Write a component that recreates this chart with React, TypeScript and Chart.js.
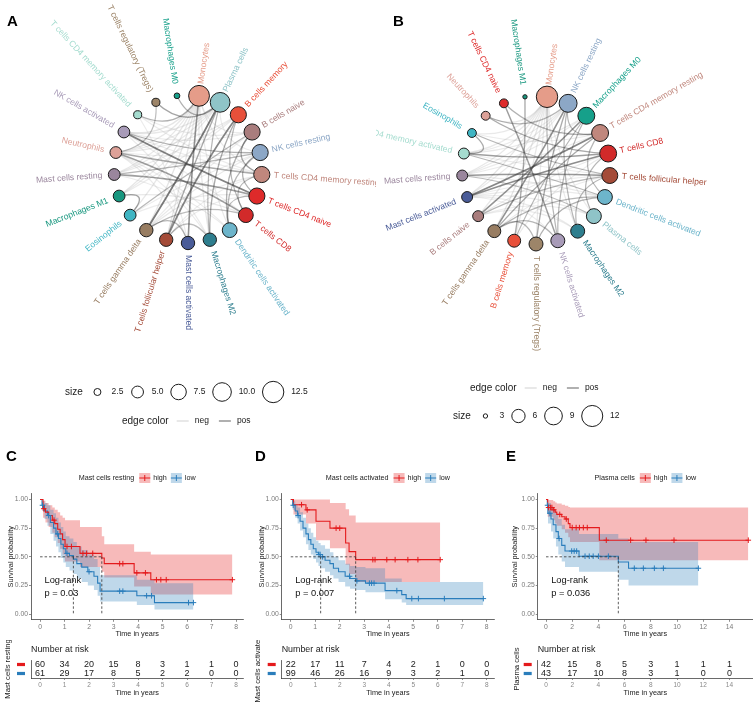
import React, { useEffect, useRef } from 'react';
import { Chart, registerables } from 'chart.js';

Chart.register(...registerables);

const FONT = "'Liberation Sans', Arial, Helvetica, sans-serif";
Chart.defaults.font.family = FONT;

// ================= Network data =================
const cellColors: Record<string, string> = {
  'Monocytes': '#E59C89',
  'Plasma cells': '#8FC4C8',
  'B cells memory': '#E8503A',
  'B cells naive': '#A97D7D',
  'NK cells resting': '#8CA7C6',
  'T cells CD4 memory resting': '#C0877D',
  'T cells CD4 naive': '#DE2A2A',
  'T cells CD8': '#D22A2A',
  'Dendritic cells activated': '#6DB5CB',
  'Macrophages M2': '#2E7E8E',
  'Mast cells activated': '#4A5C98',
  'T cells follicular helper': '#A44B38',
  'T cells gamma delta': '#987D62',
  'Eosinophils': '#3FB5C3',
  'Macrophages M1': '#18977F',
  'Mast cells resting': '#9A869D',
  'Neutrophils': '#DDA198',
  'NK cells activated': '#A89BB8',
  'T cells CD4 memory activated': '#A5DCCF',
  'T cells regulatory (Tregs)': '#9D8569',
  'Macrophages M0': '#16A08A',
};

const netANodes = ['Monocytes', 'Plasma cells', 'B cells memory', 'B cells naive', 'NK cells resting',
  'T cells CD4 memory resting', 'T cells CD4 naive', 'T cells CD8', 'Dendritic cells activated', 'Macrophages M2',
  'Mast cells activated', 'T cells follicular helper', 'T cells gamma delta', 'Eosinophils', 'Macrophages M1',
  'Mast cells resting', 'Neutrophils', 'NK cells activated', 'T cells CD4 memory activated',
  'T cells regulatory (Tregs)', 'Macrophages M0'];
const netASizes = [12, 11, 8, 8, 8, 8, 8, 7, 7, 6, 6, 6, 6, 5, 5, 5, 5, 5, 3, 3, 2];
const netAEdges: [number, number, number][] = [
  [1, 12, 0.9], [2, 11, 0.8], [17, 6, 0.85], [16, 7, 0.6], [15, 6, 0.6], [0, 10, 0.7], [14, 13, 0.55],
  [20, 1, 0.45], [19, 1, 0.55], [18, 0, 0.45], [2, 9, 0.5], [3, 5, 0.5], [4, 6, 0.45], [5, 7, 0.4],
  [3, 8, 0.45], [4, 8, 0.4], [1, 11, 0.5], [12, 10, 0.4], [11, 9, 0.35], [17, 4, 0.45], [16, 5, 0.5],
  [15, 4, 0.4], [13, 3, 0.4], [8, 6, 0.35], [2, 7, 0.4], [12, 7, 0.35], [19, 16, 0.35], [1, 9, 0.4],
  [0, 12, -0.5], [0, 13, -0.4], [0, 14, -0.45], [0, 16, -0.4], [0, 17, -0.5], [0, 15, -0.4], [0, 11, -0.45],
  [0, 9, -0.4], [0, 8, -0.35], [0, 3, -0.3], [0, 5, -0.35], [1, 15, -0.4], [1, 16, -0.35], [1, 17, -0.4],
  [1, 14, -0.35], [1, 4, -0.3], [2, 16, -0.35], [2, 15, -0.3], [2, 14, -0.3], [3, 17, -0.35], [3, 12, -0.3],
  [4, 12, -0.35], [4, 13, -0.3], [4, 16, -0.3], [5, 11, -0.3], [5, 12, -0.35], [5, 17, -0.3], [6, 13, -0.3],
  [6, 11, -0.3], [7, 14, -0.35], [7, 17, -0.3], [8, 15, -0.3], [8, 16, -0.3], [9, 17, -0.3], [9, 16, -0.3],
  [10, 16, -0.35], [10, 18, -0.3], [18, 5, -0.3], [18, 3, -0.3],
];
const netASizeBreaks = [2.5, 5, 7.5, 10, 12.5];
const netASizeLabels = ['2.5', '5.0', '7.5', '10.0', '12.5'];

const netBNodes = ['Monocytes', 'NK cells resting', 'Macrophages M0', 'T cells CD4 memory resting', 'T cells CD8',
  'T cells follicular helper', 'Dendritic cells activated', 'Plasma cells', 'Macrophages M2', 'NK cells activated',
  'T cells regulatory (Tregs)', 'B cells memory', 'T cells gamma delta', 'B cells naive', 'Mast cells activated',
  'Mast cells resting', 'T cells CD4 memory activated', 'Eosinophils', 'Neutrophils', 'T cells CD4 naive',
  'Macrophages M1'];
const netBSizes = [12.3, 9.2, 8.4, 8.4, 8.4, 7.7, 7.0, 7.0, 6.4, 6.4, 6.4, 5.8, 5.8, 4.8, 4.8, 4.8, 4.8, 4.0, 4.0, 4.0, 3.0];
const netBEdges: [number, number, number][] = [
  [14, 3, 0.8], [14, 4, 0.75], [13, 2, 0.7], [12, 1, 0.7], [15, 5, 0.65], [16, 4, 0.6], [19, 9, 0.6],
  [20, 11, 0.5], [18, 4, 0.5], [17, 16, 0.5], [12, 3, 0.5], [10, 1, 0.5], [9, 2, 0.4], [11, 2, 0.4],
  [8, 5, 0.4], [7, 4, 0.4], [6, 3, 0.4], [1, 3, 0.4], [13, 5, 0.4], [12, 6, 0.4], [10, 12, 0.4],
  [9, 12, 0.4], [19, 3, 0.45], [0, 9, 0.4], [8, 1, 0.4], [10, 6, 0.45], [18, 1, 0.4], [17, 5, 0.4],
  [16, 6, 0.4], [15, 7, 0.35],
  [0, 12, -0.45], [0, 13, -0.4], [0, 14, -0.45], [0, 15, -0.4], [0, 16, -0.4], [0, 17, -0.35], [0, 18, -0.35],
  [0, 11, -0.4], [0, 10, -0.35], [0, 8, -0.35], [0, 7, -0.3], [1, 15, -0.35], [1, 16, -0.3], [1, 14, -0.3],
  [2, 15, -0.3], [2, 16, -0.35], [3, 15, -0.3], [3, 17, -0.3], [4, 13, -0.35], [4, 11, -0.3], [5, 16, -0.3],
  [5, 14, -0.3], [5, 12, -0.3], [6, 15, -0.35], [6, 14, -0.3], [7, 14, -0.3], [7, 13, -0.3], [8, 14, -0.3],
  [8, 13, -0.3], [9, 14, -0.3],
];
const netBSizeBreaks = [3, 6, 9, 12];
const netBSizeLabels = ['3', '6', '9', '12'];

const edgeLegendLabels = ['neg', 'pos'];

// ================= Survival data =================
const riskGroups = ['high', 'low'];
const kmYTicks = [0, 0.25, 0.5, 0.75, 1];

// C: Mast cells resting
const cHighTime = [0, 0.12, 0.22, 0.35, 0.5, 0.6, 0.72, 0.82, 0.92, 1.02, 1.63, 2.52, 2.62, 3.84, 4.52, 7.85];
const cHighSurv = [1, 0.92, 0.89, 0.86, 0.82, 0.79, 0.74, 0.70, 0.65, 0.59, 0.53, 0.49, 0.44, 0.36, 0.30, 0.30];
const cHighUpper = [1, 0.99, 0.97, 0.95, 0.93, 0.91, 0.89, 0.86, 0.84, 0.82, 0.76, 0.68, 0.61, 0.545, 0.52, 0.52];
const cHighLower = [1, 0.84, 0.80, 0.76, 0.71, 0.67, 0.62, 0.57, 0.52, 0.46, 0.41, 0.37, 0.32, 0.24, 0.17, 0.17];
const cHighCensor = [0.15, 0.57, 1.1, 1.28, 1.75, 1.9, 2.15, 3.25, 3.38, 3.95, 4.3, 4.75, 4.93, 5.15, 7.85];
const cLowTime = [0, 0.08, 0.18, 0.3, 0.42, 0.55, 0.65, 0.75, 0.85, 0.95, 1.05, 1.2, 1.36, 1.5, 1.7, 1.95, 2.2, 2.35, 2.45, 3.95, 4.67, 6.26];
const cLowSurv = [1, 0.95, 0.90, 0.86, 0.80, 0.75, 0.70, 0.66, 0.61, 0.57, 0.53, 0.51, 0.48, 0.44, 0.41, 0.37, 0.33, 0.27, 0.20, 0.16, 0.10, 0.10];
const cLowUpper = [1, 0.99, 0.97, 0.95, 0.91, 0.88, 0.84, 0.80, 0.76, 0.72, 0.68, 0.66, 0.63, 0.59, 0.56, 0.52, 0.48, 0.41, 0.34, 0.30, 0.27, 0.27];
const cLowLower = [1, 0.90, 0.83, 0.77, 0.70, 0.64, 0.59, 0.54, 0.49, 0.45, 0.41, 0.38, 0.35, 0.31, 0.28, 0.25, 0.21, 0.16, 0.11, 0.08, 0.04, 0.04];
const cLowCensor = [0.1, 0.35, 0.72, 1.1, 2.0, 3.25, 3.38, 4.35, 4.55, 6.06, 6.26];
const cRiskTimes = [0, 1, 2, 3, 4, 5, 6, 7, 8];
const cRiskHigh = [60, 34, 20, 15, 8, 3, 1, 1, 0];
const cRiskLow = [61, 29, 17, 8, 5, 2, 2, 0, 0];

// D: Mast cells activated
const dHighTime = [0, 0.11, 0.62, 1.03, 1.6, 2.24, 2.38, 2.65, 6.1];
const dHighSurv = [1, 0.955, 0.91, 0.81, 0.75, 0.62, 0.545, 0.475, 0.475];
const dHighUpper = [1, 1, 1, 1, 0.97, 0.915, 0.86, 0.80, 0.80];
const dHighLower = [1, 0.87, 0.79, 0.645, 0.575, 0.43, 0.35, 0.28, 0.28];
const dHighCensor = [0.44, 0.67, 1.85, 2.0, 3.35, 3.44, 3.92, 4.26, 4.78, 5.19, 6.1];
const dLowTime = [0, 0.08, 0.18, 0.28, 0.38, 0.5, 0.62, 0.72, 0.82, 0.92, 1.03, 1.13, 1.22, 1.4, 1.6, 1.74, 1.95, 2.22, 2.42, 2.66, 3.05, 3.85, 4.53, 4.71, 7.86];
const dLowSurv = [1, 0.95, 0.90, 0.86, 0.81, 0.75, 0.70, 0.65, 0.61, 0.57, 0.54, 0.52, 0.50, 0.47, 0.44, 0.40, 0.37, 0.33, 0.31, 0.29, 0.27, 0.205, 0.17, 0.135, 0.135];
const dLowUpper = [1, 0.99, 0.96, 0.93, 0.89, 0.84, 0.79, 0.75, 0.71, 0.67, 0.64, 0.62, 0.60, 0.57, 0.54, 0.50, 0.47, 0.44, 0.42, 0.41, 0.40, 0.31, 0.28, 0.28, 0.28];
const dLowLower = [1, 0.91, 0.84, 0.79, 0.73, 0.67, 0.61, 0.56, 0.52, 0.48, 0.45, 0.42, 0.40, 0.37, 0.34, 0.31, 0.28, 0.24, 0.22, 0.21, 0.19, 0.13, 0.10, 0.08, 0.08];
const dLowCensor = [0.1, 0.3, 1.15, 1.2, 1.3, 2.4, 2.7, 3.21, 3.3, 3.4, 4.33, 4.94, 5.21, 6.27, 7.86];
const dRiskTimes = [0, 1, 2, 3, 4, 5, 6, 7, 8];
const dRiskHigh = [22, 17, 11, 7, 4, 2, 1, 0, 0];
const dRiskLow = [99, 46, 26, 16, 9, 3, 2, 1, 0];

// E: Plasma cells
const eHighTime = [0, 0.13, 0.55, 0.7, 0.82, 1.2, 1.45, 1.7, 1.83, 4.07, 15.44];
const eHighSurv = [1, 0.93, 0.91, 0.89, 0.87, 0.85, 0.83, 0.79, 0.755, 0.645, 0.645];
const eHighUpper = [1, 0.995, 0.985, 0.975, 0.965, 0.955, 0.945, 0.935, 0.93, 0.93, 0.93];
const eHighLower = [1, 0.85, 0.82, 0.79, 0.77, 0.74, 0.71, 0.67, 0.63, 0.47, 0.47];
const eHighCensor = [0.2, 0.35, 0.45, 0.6, 1.05, 1.55, 2.0, 2.3, 2.55, 2.85, 3.15, 4.6, 6.46, 7.63, 9.77, 15.44];
const eLowTime = [0, 0.1, 0.15, 0.38, 0.55, 0.76, 0.94, 1.2, 1.45, 2.52, 5.52, 6.3, 11.63];
const eLowSurv = [1, 0.95, 0.88, 0.83, 0.78, 0.72, 0.66, 0.60, 0.55, 0.505, 0.455, 0.40, 0.40];
const eLowUpper = [1, 0.99, 0.97, 0.94, 0.91, 0.87, 0.83, 0.78, 0.74, 0.70, 0.66, 0.63, 0.63];
const eLowLower = [1, 0.88, 0.79, 0.72, 0.66, 0.59, 0.52, 0.46, 0.41, 0.37, 0.30, 0.25, 0.25];
const eLowCensor = [0.12, 0.3, 1.0, 1.96, 2.15, 2.34, 2.98, 3.3, 3.6, 4.0, 4.76, 6.74, 7.43, 8.27, 8.96, 11.63];
const eRiskTimes = [0, 2, 4, 6, 8, 10, 12, 14];
const eRiskHigh = [42, 15, 8, 5, 3, 1, 1, 1];
const eRiskLow = [43, 17, 10, 8, 3, 1, 0, 0];

// ================= Styles =================
const RED = '#E41A1C';
const BLUE = '#2A7DBB';
const RED_CI = 'rgba(228,26,28,0.3)';
const BLUE_CI = 'rgba(42,125,187,0.3)';

const rOfA = (s: number) => 3.67 * Math.sqrt(s) - 2.3;
const rOfB = (s: number) => 1.2 + 3.1 * Math.sqrt(Math.max(0, s - 2.9));

// ================= Network chart =================
function networkConfig(p: any) {
  const n = p.nodes.length;
  const step = (2 * Math.PI) / n;
  const data = p.nodes.map((name: string, i: number) => {
    const th = -Math.PI / 2 + (i + 0.5) * step;
    return { x: p.ring * Math.cos(th), y: -p.ring * Math.sin(th), r: p.rOf(p.sizes[i]) };
  });
  const plugin = {
    id: 'net',
    beforeDatasetsDraw(chart: any) {
      const ctx = chart.ctx;
      const pts = chart.getDatasetMeta(0).data;
      const cx = chart.scales.x.getPixelForValue(0);
      const cy = chart.scales.y.getPixelForValue(0);
      const sorted = [...p.edges].sort((a: any, b: any) => ((a[2] > 0 ? 1 : 0) - (b[2] > 0 ? 1 : 0)) || (Math.abs(a[2]) - Math.abs(b[2])));
      ctx.save();
      ctx.lineCap = 'round';
      for (const [a, b, w] of sorted) {
        const P = pts[a], Q = pts[b];
        const mx = (P.x + Q.x) / 2, my = (P.y + Q.y) / 2;
        const kx = mx + (cx - mx) * 0.45, ky = my + (cy - my) * 0.45;
        const s = Math.abs(w);
        ctx.strokeStyle = w > 0 ? `rgba(55,55,55,${0.12 + 0.6 * s})` : `rgba(180,180,180,${0.15 + 0.4 * s})`;
        ctx.lineWidth = w > 0 ? 0.7 + 1.3 * s : 0.8 + 1.2 * s;
        ctx.beginPath();
        ctx.moveTo(P.x, P.y);
        ctx.quadraticCurveTo(kx, ky, Q.x, Q.y);
        ctx.stroke();
      }
      ctx.restore();
    },
    afterDatasetsDraw(chart: any) {
      const ctx = chart.ctx;
      const pts = chart.getDatasetMeta(0).data;
      const cx = chart.scales.x.getPixelForValue(0);
      const cy = chart.scales.y.getPixelForValue(0);
      ctx.save();
      ctx.font = `8.6px ${FONT}`;
      ctx.textBaseline = 'middle';
      pts.forEach((P: any, i: number) => {
        const ang = Math.atan2(P.y - cy, P.x - cx);
        const dist = Math.hypot(P.x - cx, P.y - cy) + 12;
        const lx = cx + dist * Math.cos(ang), ly = cy + dist * Math.sin(ang);
        const right = Math.cos(ang) > -1e-6;
        ctx.save();
        ctx.translate(lx, ly);
        ctx.rotate(right ? ang : ang + Math.PI);
        ctx.textAlign = right ? 'left' : 'right';
        ctx.fillStyle = cellColors[p.nodes[i]];
        ctx.fillText(p.nodes[i], 0, 0);
        ctx.restore();
      });
      ctx.restore();
    },
    afterDraw(chart: any) {
      const ctx = chart.ctx;
      ctx.save();
      ctx.textBaseline = 'middle';
      ctx.textAlign = 'left';
      ctx.fillStyle = '#1a1a1a';
      let { x, y } = p.sizeRow;
      ctx.font = `10px ${FONT}`;
      ctx.fillText('size', x, y);
      let cur = x + ctx.measureText('size').width + 6;
      p.breaks.forEach((b: number, i: number) => {
        const r = p.rOf(b);
        const half = Math.max(8.65, r + 1.8);
        const c = cur + half;
        ctx.beginPath();
        ctx.arc(c, y, r, 0, Math.PI * 2);
        ctx.strokeStyle = '#1a1a1a';
        ctx.lineWidth = 1;
        ctx.stroke();
        cur = c + half + 5.5;
        ctx.font = `8.5px ${FONT}`;
        ctx.fillText(p.breakLabels[i], cur, y);
        cur += ctx.measureText(p.breakLabels[i]).width + 5.5;
      });
      ({ x, y } = p.edgeRow);
      ctx.font = `10px ${FONT}`;
      ctx.fillText('edge color', x, y);
      cur = x + ctx.measureText('edge color').width;
      const lineCols = ['#e6e6e6', '#a8a8a8'];
      edgeLegendLabels.forEach((lab, i) => {
        const c = cur + 14;
        ctx.strokeStyle = lineCols[i];
        ctx.lineWidth = 1.8;
        ctx.beginPath();
        ctx.moveTo(c - 6, y);
        ctx.lineTo(c + 6, y);
        ctx.stroke();
        ctx.font = `8.5px ${FONT}`;
        ctx.fillText(lab, c + 12, y);
        cur = c + 12 + ctx.measureText(lab).width + 2;
      });
      ctx.restore();
    },
  };
  return {
    type: 'bubble',
    data: {
      datasets: [{
        data,
        backgroundColor: p.nodes.map((nm: string) => cellColors[nm]),
        borderColor: '#1a1a1a',
        borderWidth: 1,
        hoverBorderWidth: 1,
      }],
    },
    options: {
      responsive: false,
      animation: false,
      devicePixelRatio: 1,
      events: [],
      layout: { padding: 0, autoPadding: false },
      plugins: { legend: { display: false }, tooltip: { enabled: false }, title: { display: false } },
      scales: {
        x: { type: 'linear', display: false, min: -p.cx, max: p.width - p.cx },
        y: { type: 'linear', display: false, min: -(p.height - p.cy), max: p.cy },
      },
    },
    plugins: [plugin],
  };
}

// ================= Survival charts =================
const xy = (T: number[], V: number[]) => T.map((t, i) => ({ x: t, y: V[i] }));
function stepValue(T: number[], S: number[], t: number) {
  let v = S[0];
  for (let i = 0; i < T.length; i++) if (T[i] <= t) v = S[i];
  return v;
}
function medianOf(T: number[], S: number[]) {
  for (let i = 0; i < T.length; i++) if (S[i] <= 0.5) return T[i];
  return null;
}

function axisCommon(min: number, max: number, ticks: number[]) {
  return {
    type: 'linear', min, max,
    afterBuildTicks: (sc: any) => { sc.ticks = ticks.map((v) => ({ value: v })); },
    grid: { drawOnChartArea: false, drawTicks: true, tickLength: 2, color: '#444', lineWidth: 0.6 },
    border: { display: true, color: '#444', width: 0.8 },
    ticks: { font: { size: 6.8 }, color: '#7a7a7a', padding: 1, maxRotation: 0, autoSkip: false },
  };
}

function kmConfig(k: any) {
  const plugin = {
    id: 'km',
    afterDatasetsDraw(chart: any) {
      const { ctx, chartArea: a, scales: { x, y } } = chart;
      const meds = [medianOf(k.hiT, k.hiS), medianOf(k.loT, k.loS)].filter((v) => v !== null) as number[];
      ctx.save();
      if (meds.length) {
        ctx.setLineDash([2.5, 2]);
        ctx.strokeStyle = '#333';
        ctx.lineWidth = 0.8;
        ctx.beginPath();
        ctx.moveTo(x.getPixelForValue(0), y.getPixelForValue(0.5));
        ctx.lineTo(x.getPixelForValue(Math.max(...meds)), y.getPixelForValue(0.5));
        meds.forEach((m) => {
          ctx.moveTo(x.getPixelForValue(m), y.getPixelForValue(0.5));
          ctx.lineTo(x.getPixelForValue(m), y.getPixelForValue(0));
        });
        ctx.stroke();
        ctx.setLineDash([]);
      }
      ctx.font = `9.3px ${FONT}`;
      ctx.fillStyle = '#111';
      ctx.textAlign = 'left';
      ctx.textBaseline = 'middle';
      ctx.fillText('Log-rank', a.left + 13.5, y.getPixelForValue(0.297));
      ctx.fillText(k.pText, a.left + 13.5, y.getPixelForValue(0.183));
      ctx.restore();
    },
    afterDraw(chart: any) {
      const { ctx, chartArea: a } = chart;
      ctx.save();
      ctx.font = `7.2px ${FONT}`;
      ctx.textBaseline = 'middle';
      ctx.textAlign = 'left';
      const tw = ctx.measureText(k.title).width;
      const hw = ctx.measureText(riskGroups[0]).width;
      const lw = ctx.measureText(riskGroups[1]).width;
      const total = tw + 5 + 11 + 3 + hw + 4 + 11 + 3 + lw;
      let cur = (a.left + a.right) / 2 - total / 2;
      const ly = 38;
      ctx.fillStyle = '#222';
      ctx.fillText(k.title, cur, ly);
      cur += tw + 5;
      const keys = [[RED, RED_CI, riskGroups[0], hw], [BLUE, BLUE_CI, riskGroups[1], lw]];
      keys.forEach(([col, ci, lab, w]: any) => {
        ctx.fillStyle = ci;
        ctx.fillRect(cur, ly - 5, 11, 10);
        ctx.strokeStyle = col;
        ctx.lineWidth = 1;
        ctx.beginPath();
        ctx.moveTo(cur, ly); ctx.lineTo(cur + 11, ly);
        ctx.moveTo(cur + 5.5, ly - 3); ctx.lineTo(cur + 5.5, ly + 3);
        ctx.stroke();
        cur += 11 + 3;
        ctx.fillStyle = '#222';
        ctx.fillText(lab, cur, ly);
        cur += w + 4;
      });
      ctx.restore();
    },
  };
  const band = (T: number[], V: number[], fill: any, bg: string, order: number) => ({
    data: xy(T, V), stepped: true, borderWidth: 0, borderColor: 'transparent', pointRadius: 0,
    fill, backgroundColor: bg, order,
  });
  const line = (T: number[], S: number[], col: string) => ({
    data: xy(T, S), stepped: true, borderColor: col, borderWidth: 1.1, pointRadius: 0, fill: false, order: 2,
  });
  const cens = (C: number[], T: number[], S: number[], col: string) => ({
    data: C.map((t) => ({ x: t, y: stepValue(T, S, t) })), showLine: false, pointStyle: 'cross',
    pointRadius: 2.8, pointBorderColor: col, pointBorderWidth: 1, borderColor: col, fill: false, order: 1,
  });
  const xAx: any = axisCommon(k.xMin, k.xMax, k.xTicks);
  xAx.afterFit = (sc: any) => { sc.height = 20.2; };
  xAx.title = { display: true, text: 'Time in years', font: { size: 7.3 }, color: '#222', padding: { top: 0, bottom: 1.6 } };
  const yAx: any = axisCommon(-0.05, 1.05, kmYTicks);
  yAx.afterFit = (sc: any) => { sc.width = k.axisW; };
  yAx.ticks = { ...yAx.ticks, callback: (v: any) => Number(v).toFixed(2) };
  yAx.title = { display: true, text: 'Survival probability', font: { size: 7.3 }, color: '#222', padding: { top: k.yTitlePad, bottom: 0 } };
  return {
    type: 'line',
    data: {
      datasets: [
        band(k.hiT, k.hiU, '+1', RED_CI, 12),
        band(k.hiT, k.hiL, false, 'transparent', 12),
        band(k.loT, k.loU, '+1', BLUE_CI, 11),
        band(k.loT, k.loL, false, 'transparent', 11),
        line(k.hiT, k.hiS, RED),
        line(k.loT, k.loS, BLUE),
        cens(k.hiC, k.hiT, k.hiS, RED),
        cens(k.loC, k.loT, k.loS, BLUE),
      ],
    },
    options: {
      responsive: false,
      animation: false,
      devicePixelRatio: 1,
      events: [],
      layout: { padding: { top: 53.8, right: k.padR, bottom: 0, left: 0 }, autoPadding: false },
      plugins: { legend: { display: false }, tooltip: { enabled: false }, title: { display: false } },
      scales: { x: xAx, y: yAx },
    },
    plugins: [plugin],
  };
}

function riskConfig(k: any) {
  const values = [k.riskHigh, k.riskLow];
  const cols = [RED, BLUE];
  const plugin = {
    id: 'risk',
    afterDatasetsDraw(chart: any) {
      const { ctx, chartArea: a } = chart;
      ctx.save();
      ctx.textBaseline = 'middle';
      [0, 1].forEach((g) => {
        const meta = chart.getDatasetMeta(g);
        ctx.font = `9px ${FONT}`;
        ctx.fillStyle = '#1a1a1a';
        ctx.textAlign = 'center';
        meta.data.forEach((el: any, j: number) => {
          ctx.fillText(String(values[g][j]), el.x, el.y);
        });
        if (meta.data.length) {
          ctx.fillStyle = cols[g];
          ctx.fillRect(a.left - 14, meta.data[0].y - 1.6, 8, 3.2);
        }
      });
      ctx.font = `8.9px ${FONT}`;
      ctx.fillStyle = '#1a1a1a';
      ctx.textAlign = 'left';
      ctx.fillText('Number at risk', a.left, a.top - 10);
      ctx.restore();
    },
  };
  const xAx: any = axisCommon(k.xMin, k.xMax, k.riskT);
  xAx.afterFit = (sc: any) => { sc.height = 24; };
  xAx.ticks = { ...xAx.ticks, font: { size: 6.5 }, color: '#8a8a8a' };
  xAx.title = { display: true, text: 'Time in years', font: { size: 7.3 }, color: '#222', padding: { top: 0, bottom: 4.6 } };
  return {
    type: 'scatter',
    data: {
      datasets: [
        { data: k.riskT.map((t: number) => ({ x: t, y: riskGroups[0] })), pointRadius: 0 },
        { data: k.riskT.map((t: number) => ({ x: t, y: riskGroups[1] })), pointRadius: 0 },
      ],
    },
    options: {
      responsive: false,
      animation: false,
      devicePixelRatio: 1,
      events: [],
      layout: { padding: { top: 20, right: k.padR, bottom: 0, left: 0 }, autoPadding: false },
      plugins: { legend: { display: false }, tooltip: { enabled: false }, title: { display: false } },
      scales: {
        x: xAx,
        y: {
          type: 'category', labels: riskGroups, offset: true,
          afterFit: (sc: any) => { sc.width = k.axisW; },
          grid: { display: false },
          border: { display: true, color: '#444', width: 0.8 },
          ticks: { display: false },
          title: { display: true, text: k.title, font: { size: 7.7 }, color: '#222', padding: { top: k.riskTitlePad, bottom: 0 } },
        },
      },
    },
    plugins: [plugin],
  };
}

const panels = [
  {
    left: 0, width: 250, title: 'Mast cells resting', pText: 'p = 0.03',
    hiT: cHighTime, hiS: cHighSurv, hiU: cHighUpper, hiL: cHighLower, hiC: cHighCensor,
    loT: cLowTime, loS: cLowSurv, loU: cLowUpper, loL: cLowLower, loC: cLowCensor,
    xMin: -0.37, xMax: 8.3, xTicks: cRiskTimes, riskT: cRiskTimes, riskHigh: cRiskHigh, riskLow: cRiskLow,
    axisW: 31, padR: 6.6, yTitlePad: 6.6, riskTitlePad: 3,
  },
  {
    left: 250, width: 250, title: 'Mast cells activated', pText: 'p = 0.007',
    hiT: dHighTime, hiS: dHighSurv, hiU: dHighUpper, hiL: dHighLower, hiC: dHighCensor,
    loT: dLowTime, loS: dLowSurv, loU: dLowUpper, loL: dLowLower, loC: dLowCensor,
    xMin: -0.37, xMax: 8.3, xTicks: dRiskTimes, riskT: dRiskTimes, riskHigh: dRiskHigh, riskLow: dRiskLow,
    axisW: 31.7, padR: 5.9, yTitlePad: 7.6, riskTitlePad: 3.4,
  },
  {
    left: 500, width: 253, title: 'Plasma cells', pText: 'p = 0.036',
    hiT: eHighTime, hiS: eHighSurv, hiU: eHighUpper, hiL: eHighLower, hiC: eHighCensor,
    loT: eLowTime, loS: eLowSurv, loU: eLowUpper, loL: eLowLower, loC: eLowCensor,
    xMin: -0.634, xMax: 15.8, xTicks: eRiskTimes, riskT: eRiskTimes, riskHigh: eRiskHigh, riskLow: eRiskLow,
    axisW: 37.7, padR: 0, yTitlePad: 10.6, riskTitlePad: 12,
  },
];

const netSpecs = [
  {
    left: 0, width: 376, height: 440, cx: 188, cy: 169, ring: 74,
    nodes: netANodes, sizes: netASizes, edges: netAEdges, rOf: rOfA,
    breaks: netASizeBreaks, breakLabels: netASizeLabels,
    sizeRow: { x: 65, y: 392 }, edgeRow: { x: 122, y: 421 },
  },
  {
    left: 376, width: 377, height: 440, cx: 160, cy: 170, ring: 74,
    nodes: netBNodes, sizes: netBSizes, edges: netBEdges, rOf: rOfB,
    breaks: netBSizeBreaks, breakLabels: netBSizeLabels,
    sizeRow: { x: 77, y: 416 }, edgeRow: { x: 94, y: 388 },
  },
];

export default function App() {
  const netRefs = useRef<(HTMLCanvasElement | null)[]>([]);
  const kmRefs = useRef<(HTMLCanvasElement | null)[]>([]);
  const riskRefs = useRef<(HTMLCanvasElement | null)[]>([]);

  useEffect(() => {
    const charts: Chart[] = [];
    netSpecs.forEach((s, i) => {
      const c = netRefs.current[i];
      if (c) charts.push(new Chart(c, networkConfig(s) as any));
    });
    panels.forEach((p, i) => {
      const c1 = kmRefs.current[i];
      if (c1) charts.push(new Chart(c1, kmConfig(p) as any));
      const c2 = riskRefs.current[i];
      if (c2) charts.push(new Chart(c2, riskConfig(p) as any));
    });
    return () => { charts.forEach((ch) => ch.destroy()); };
  }, []);

  const letterStyle = (left: number, top: number): React.CSSProperties => ({
    position: 'absolute', left, top, fontFamily: FONT, fontWeight: 'bold', fontSize: 15, lineHeight: '15px', color: '#000',
  });

  return (
    <div style={{ position: 'absolute', left: 0, top: 0, width: 753, height: 702, overflow: 'hidden', background: '#fff' }}>
      {netSpecs.map((s, i) => (
        <canvas key={'n' + i} ref={(el) => { netRefs.current[i] = el; }} width={s.width} height={s.height}
          style={{ position: 'absolute', left: s.left, top: 0, width: s.width, height: s.height }} />
      ))}
      {panels.map((p, i) => (
        <canvas key={'k' + i} ref={(el) => { kmRefs.current[i] = el; }} width={p.width} height={200}
          style={{ position: 'absolute', left: p.left, top: 440, width: p.width, height: 200 }} />
      ))}
      {panels.map((p, i) => (
        <canvas key={'r' + i} ref={(el) => { riskRefs.current[i] = el; }} width={p.width} height={62}
          style={{ position: 'absolute', left: p.left, top: 640, width: p.width, height: 62 }} />
      ))}
      <div style={letterStyle(7, 13)}>A</div>
      <div style={letterStyle(393, 13)}>B</div>
      <div style={letterStyle(6, 448)}>C</div>
      <div style={letterStyle(255, 448)}>D</div>
      <div style={letterStyle(506, 448)}>E</div>
    </div>
  );
}
